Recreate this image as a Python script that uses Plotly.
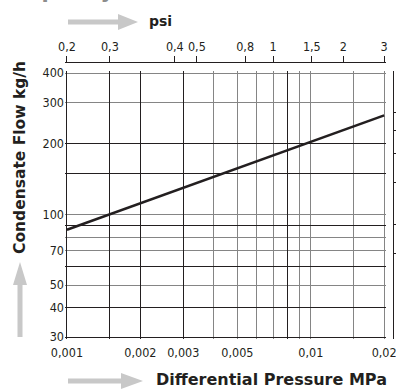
import numpy as np
import plotly.graph_objects as go

# condensate flow vs differential pressure
pressure_mpa = [0.001, 0.005, 0.01, 0.02]
flow_kgh = [86, 157, 203, 264]

# bottom axis (MPa)
x_tick_vals = [0.001, 0.002, 0.003, 0.005, 0.01, 0.02]
x_tick_text = ['0,001', '0,002', '0,003', '0,005', '0,01', '0,02']
x_grid_dark = [0.001, 0.0015, 0.002, 0.003, 0.008]
x_grid_light = [0.004, 0.005, 0.006, 0.007, 0.009, 0.01, 0.015, 0.02]

# top psi scale, placed where the drawing puts it (in MPa)
psi_text = ['0,2', '0,3', '0,4', '0,5', '0,8', '1', '1,5', '2', '3']
psi_at_mpa = [0.001, 0.0015, 0.00277, 0.00341, 0.00538, 0.0070, 0.0101, 0.0136, 0.02]

# left axis (kg/h)
y_tick_vals = [30, 40, 50, 70, 100, 200, 300, 400]
y_grid_dark = [30, 40, 60, 90, 150, 200]
y_grid_light = [50, 70, 80, 100, 300, 400]

# right lb/h scale (its labels fall outside the crop)
lbh_ticks = [150, 200, 300, 400, 500, 600]
KG_TO_LB = 2.20462

DARK = '#231f20'
LIGHT = '#858585'
ARROW = '#c8c8c8'
TICK_FONT = dict(family='DejaVu Sans Condensed, sans-serif', size=12.5, color=DARK)
BOLD = 'DejaVu Sans, Verdana, sans-serif'

W, H = 396, 391
L, R, T, B = 65, 3, 62, 52
pad = 0.008
xr = [np.log10(0.001) - pad, np.log10(0.02) + pad]
yr = [np.log10(30) - pad, np.log10(400) + pad]
y2r = [yr[0] + np.log10(KG_TO_LB), yr[1] + np.log10(KG_TO_LB)]
xdom = [0, 0.979]
ydom = [0, 0.967]


# pixel -> paper helpers for the decorations
def px(x):
    return (x - L) / (W - L - R)


def py(y):
    return (H - B - y) / (H - T - B)


fig = go.Figure()

fig.add_trace(go.Scatter(
    x=pressure_mpa, y=flow_kgh, mode='lines',
    line=dict(color=DARK, width=2.5),
    showlegend=False, hoverinfo='skip'
))
# empty traces so the overlay axes get drawn
for xa, ya in [('x2', 'y'), ('x3', 'y'), ('x', 'y2'), ('x', 'y3')]:
    fig.add_trace(go.Scatter(x=[], y=[], xaxis=xa, yaxis=ya, showlegend=False, hoverinfo='skip'))

fig.update_layout(
    width=W, height=H, autosize=False,
    margin=dict(l=L, r=R, t=T, b=B, autoexpand=False),
    paper_bgcolor='white', plot_bgcolor='white',
    showlegend=False,
    xaxis=dict(
        type='log', range=xr, domain=xdom, anchor='y', automargin=False,
        tickmode='array', tickvals=x_grid_dark, showticklabels=False, ticks='',
        showgrid=True, gridcolor=DARK, gridwidth=1.2, zeroline=False, showline=False,
        minor=dict(tickmode='array', tickvals=x_grid_light, showgrid=True,
                   gridcolor=LIGHT, gridwidth=1.2, ticks=''),
    ),
    xaxis3=dict(
        type='log', range=xr, domain=xdom, overlaying='x', anchor='y', side='bottom',
        automargin=False, ticklabeloverflow='allow',
        tickmode='array', tickvals=x_tick_vals, ticktext=x_tick_text, tickangle=0,
        ticklabelstandoff=4,
        ticks='', showgrid=False, zeroline=False, showline=False, tickfont=TICK_FONT,
    ),
    xaxis2=dict(
        type='log', range=xr, domain=xdom, overlaying='x', anchor='free', position=1, side='top',
        automargin=False, ticklabeloverflow='allow',
        tickmode='array', tickvals=psi_at_mpa, ticktext=psi_text, tickangle=0,
        ticks='outside', ticklen=6, tickwidth=1, tickcolor=DARK,
        showline=True, linecolor=DARK, linewidth=1.2,
        showgrid=False, zeroline=False, tickfont=TICK_FONT,
    ),
    yaxis=dict(
        type='log', range=yr, domain=ydom, anchor='x', automargin=False,
        tickmode='array', tickvals=y_grid_dark, showticklabels=False, ticks='',
        showgrid=True, gridcolor=DARK, gridwidth=1.2, zeroline=False, showline=False,
        minor=dict(tickmode='array', tickvals=y_grid_light, showgrid=True,
                   gridcolor=LIGHT, gridwidth=1.2, ticks=''),
    ),
    yaxis3=dict(
        type='log', range=yr, domain=ydom, overlaying='y', anchor='x', side='left',
        automargin=False, ticklabeloverflow='allow',
        tickmode='array', tickvals=y_tick_vals, ticktext=[str(v) for v in y_tick_vals],
        ticks='', showgrid=False, zeroline=False, showline=False, tickfont=TICK_FONT,
    ),
    yaxis2=dict(
        type='log', range=y2r, domain=ydom, overlaying='y', anchor='free', position=1, side='right',
        automargin=False,
        tickmode='array', tickvals=lbh_ticks, showticklabels=False,
        ticks='outside', ticklen=5, tickwidth=1, tickcolor=DARK,
        showline=True, linecolor=DARK, linewidth=1.2,
        showgrid=False, zeroline=False,
    ),
)

# grey arrows next to the axis titles
arrows = [
    # top (psi)
    f'M{px(68)},{py(19.5)} L{px(118)},{py(19.5)} L{px(118)},{py(14)} L{px(138)},{py(22)} '
    f'L{px(118)},{py(30)} L{px(118)},{py(24.5)} L{px(68)},{py(24.5)} Z',
    # bottom (MPa)
    f'M{px(68)},{py(378.5)} L{px(121)},{py(378.5)} L{px(121)},{py(373)} L{px(143)},{py(381)} '
    f'L{px(121)},{py(389)} L{px(121)},{py(383.5)} L{px(68)},{py(383.5)} Z',
    # left (kg/h)
    f'M{px(17.5)},{py(337)} L{px(17.5)},{py(285)} L{px(13)},{py(285)} L{px(20)},{py(262)} '
    f'L{px(27)},{py(285)} L{px(22.5)},{py(285)} L{px(22.5)},{py(337)} Z',
]
fig.update_layout(shapes=[
    dict(type='path', xref='paper', yref='paper', path=p,
         fillcolor=ARROW, line=dict(width=0), layer='above')
    for p in arrows
])

fig.update_layout(annotations=[
    dict(text='<b>psi</b>', x=px(147), y=py(21), xref='paper', yref='paper',
         xanchor='left', yanchor='middle', showarrow=False,
         font=dict(family=BOLD, size=14, color=DARK)),
    dict(text='<b>Differential Pressure MPa</b>', x=px(271), y=py(380), xref='paper', yref='paper',
         xanchor='center', yanchor='middle', showarrow=False,
         font=dict(family=BOLD, size=16, color=DARK)),
    dict(text='<b>Condensate Flow kg/h</b>', x=px(20), y=py(158), xref='paper', yref='paper',
         xanchor='center', yanchor='middle', textangle=-90, showarrow=False,
         font=dict(family=BOLD, size=15.5, color=DARK)),
    # heading cut off by the top of the crop
    dict(text='<b>Capacity</b>', x=px(10), y=py(5), xref='paper', yref='paper',
         xanchor='left', yanchor='bottom', showarrow=False,
         font=dict(family=BOLD, size=21, color='#8c8c8c')),
])

# the page's default body margin would shift the chart by 8px
fig.write_html("out.html", config={'displayModeBar': False},
               post_script="document.body.style.margin='0';")
